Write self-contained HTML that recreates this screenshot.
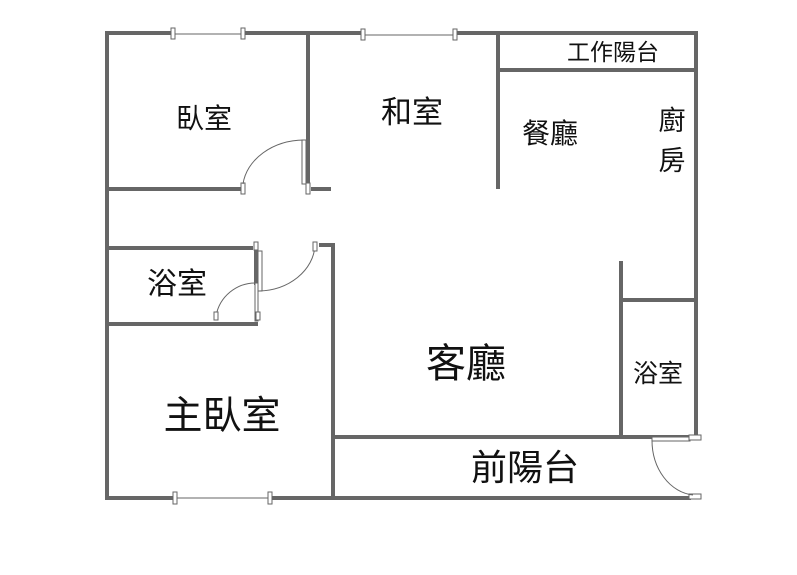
<!DOCTYPE html>
<html><head><meta charset="utf-8"><style>
html,body{margin:0;padding:0;background:#fff;width:797px;height:575px;overflow:hidden}
text{font-family:"Liberation Sans","Noto Sans CJK TC",sans-serif;fill:#111}
</style></head><body>
<svg width="797" height="575" viewBox="0 0 797 575" xmlns="http://www.w3.org/2000/svg">
<g stroke="#666" stroke-width="4" fill="none" stroke-linecap="square">
<line x1="107" y1="33" x2="173" y2="33"/>
<line x1="243" y1="33" x2="363" y2="33"/>
<line x1="455" y1="33" x2="696" y2="33"/>
<line x1="107" y1="33" x2="107" y2="498"/>
<line x1="696" y1="33" x2="696" y2="436"/>
<line x1="107" y1="498" x2="175" y2="498"/>
<line x1="270" y1="498" x2="689" y2="498"/>
<line x1="308" y1="33" x2="308" y2="185"/>
<line x1="109" y1="189" x2="240" y2="189"/>
<line x1="313" y1="189" x2="329" y2="189"/>
<line x1="498" y1="33" x2="498" y2="187"/>
<line x1="500" y1="70" x2="694" y2="70"/>
<line x1="109" y1="248" x2="251" y2="248"/>
<line x1="109" y1="324" x2="256" y2="324"/>
<line x1="256" y1="252" x2="256" y2="283"/>
<line x1="321" y1="245" x2="332" y2="245"/>
<line x1="333" y1="245" x2="333" y2="498"/>
<line x1="621" y1="263" x2="621" y2="436"/>
<line x1="623" y1="300" x2="694" y2="300"/>
<line x1="335" y1="437" x2="689" y2="437"/>
</g>
<g stroke="#666" stroke-width="1" fill="#fff">
<line x1="173" y1="34" x2="243" y2="34"/>
<rect x="171" y="28" width="4" height="11"/><rect x="241" y="28" width="4" height="11"/>
<line x1="363" y1="35" x2="455" y2="35"/>
<rect x="361" y="29" width="4" height="11"/><rect x="453" y="29" width="4" height="11"/>
<line x1="175" y1="498" x2="270" y2="498"/>
<rect x="173" y="492" width="4" height="12"/><rect x="268" y="492" width="4" height="12"/>
<rect x="302" y="140" width="4" height="44"/>
<rect x="241" y="183" width="4" height="11"/><rect x="306" y="183" width="4" height="11"/>
<path d="M304 140 A62 50 0 0 0 243 184" fill="none"/>
<rect x="254" y="242" width="4" height="8"/>
<rect x="258" y="251" width="4" height="40"/>
<path d="M259 291 A58 48 0 0 0 315 246" fill="none"/>
<rect x="313" y="242" width="4" height="9"/>
<rect x="255" y="283" width="3" height="38"/>
<path d="M256 283 A40 40 0 0 0 216 316" fill="none"/>
<rect x="214" y="312" width="4" height="8"/><rect x="256" y="312" width="4" height="8"/>
<rect x="652" y="437" width="38" height="4"/>
<rect x="689" y="435" width="12" height="5"/><rect x="689" y="494" width="12" height="5"/>
<path d="M652 440 A45 55 0 0 0 693 495" fill="none"/>
</g>
<g text-anchor="middle">
<text x="204" y="128" font-size="28">臥室</text>
<text x="412" y="123" font-size="31">和室</text>
<text x="550" y="143" font-size="28">餐廳</text>
<text x="672" y="130" font-size="27">廚</text>
<text x="672" y="170" font-size="27">房</text>
<text x="613" y="60" font-size="23">工作陽台</text>
<text x="177" y="294" font-size="30">浴室</text>
<text x="466" y="377" font-size="40">客廳</text>
<text x="222" y="429" font-size="39">主臥室</text>
<text x="658" y="382" font-size="25">浴室</text>
<text x="525" y="480" font-size="36">前陽台</text>
</g>
</svg>
</body></html>
